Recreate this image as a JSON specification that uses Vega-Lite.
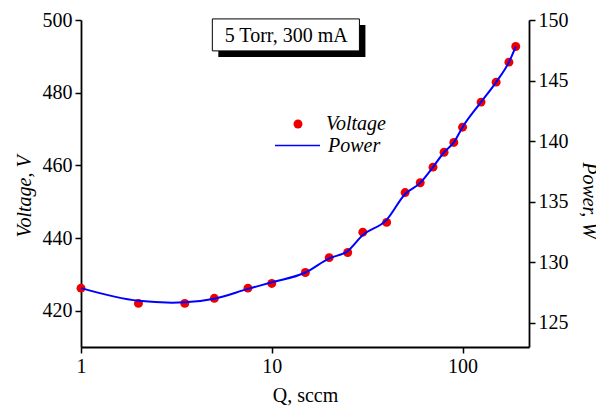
{
  "$schema": "https://vega.github.io/schema/vega-lite/v6.json",
  "width": 448,
  "height": 327,
  "autosize": "none",
  "padding": {"left": 81, "top": 20, "right": 67, "bottom": 62},
  "background": "white",
  "config": {
    "view": {"stroke": null},
    "axis": {
      "grid": false,
      "labelFont": "Liberation Serif",
      "labelFontSize": 20,
      "labelColor": "black",
      "labelFlush": false,
      "titleFont": "serif",
      "titleFontSize": 20,
      "titleFontWeight": "normal",
      "titleColor": "black",
      "domainColor": "black",
      "domainWidth": 1.8,
      "tickColor": "black",
      "tickWidth": 1.5,
      "tickSize": 6,
      "labelOverlap": false
    },
    "legend": {
      "labelFont": "Times New Roman",
      "labelFontSize": 20,
      "labelFontStyle": "italic",
      "labelColor": "black",
      "padding": 0
    }
  },
  "datasets": {
    "voltage": [
      {"Q": 1, "V": 426.2, "series": "Voltage"},
      {"Q": 2, "V": 422.0, "series": "Voltage"},
      {"Q": 3.5, "V": 422.0, "series": "Voltage"},
      {"Q": 5, "V": 423.4, "series": "Voltage"},
      {"Q": 7.5, "V": 426.2, "series": "Voltage"},
      {"Q": 10, "V": 427.5, "series": "Voltage"},
      {"Q": 15, "V": 430.5, "series": "Voltage"},
      {"Q": 20, "V": 434.6, "series": "Voltage"},
      {"Q": 25, "V": 436.0, "series": "Voltage"},
      {"Q": 30, "V": 441.6, "series": "Voltage"},
      {"Q": 40, "V": 444.3, "series": "Voltage"},
      {"Q": 50, "V": 452.5, "series": "Voltage"},
      {"Q": 60, "V": 455.2, "series": "Voltage"},
      {"Q": 70, "V": 459.5, "series": "Voltage"},
      {"Q": 80, "V": 463.6, "series": "Voltage"},
      {"Q": 90, "V": 466.3, "series": "Voltage"},
      {"Q": 100, "V": 470.5, "series": "Voltage"},
      {"Q": 125, "V": 477.4, "series": "Voltage"},
      {"Q": 150, "V": 482.9, "series": "Voltage"},
      {"Q": 175, "V": 488.4, "series": "Voltage"},
      {"Q": 190, "V": 492.7, "series": "Voltage"}
    ],
    "power": [
      {"Q": 1, "P": 127.86, "series": "Power"},
      {"Q": 2, "P": 126.81, "series": "Power"},
      {"Q": 3, "P": 126.66, "series": "Power"},
      {"Q": 3.5, "P": 126.69, "series": "Power"},
      {"Q": 5, "P": 126.99, "series": "Power"},
      {"Q": 7.5, "P": 127.8, "series": "Power"},
      {"Q": 10, "P": 128.34, "series": "Power"},
      {"Q": 15, "P": 129.15, "series": "Power"},
      {"Q": 20, "P": 130.32, "series": "Power"},
      {"Q": 25, "P": 130.92, "series": "Power"},
      {"Q": 30, "P": 132.24, "series": "Power"},
      {"Q": 40, "P": 133.5, "series": "Power"},
      {"Q": 50, "P": 135.63, "series": "Power"},
      {"Q": 60, "P": 136.55, "series": "Power"},
      {"Q": 70, "P": 137.85, "series": "Power"},
      {"Q": 80, "P": 139.08, "series": "Power"},
      {"Q": 90, "P": 139.89, "series": "Power"},
      {"Q": 100, "P": 141.15, "series": "Power"},
      {"Q": 125, "P": 143.22, "series": "Power"},
      {"Q": 150, "P": 144.87, "series": "Power"},
      {"Q": 175, "P": 146.52, "series": "Power"},
      {"Q": 190, "P": 147.81, "series": "Power"}
    ],
    "box": [{"Q": 4.88, "Q2": 28.8, "V": 500.3, "V2": 491.5}],
    "label": [{"Q": 11.9, "V": 495.7, "t": "5 Torr, 300 mA"}]
  },
  "encoding": {
    "x": {
      "field": "Q",
      "type": "quantitative",
      "scale": {"type": "log", "domain": [1, 223], "nice": false},
      "axis": {
        "title": "Q, sccm",
        "values": [1, 10, 100],
        "labelPadding": 3,
        "titlePadding": 9
      }
    }
  },
  "layer": [
    {
      "encoding": {
        "y": {
          "field": "V",
          "type": "quantitative",
          "scale": {"domain": [410, 500], "nice": false, "zero": false},
          "axis": {
            "title": "Voltage, V",
            "titleFontStyle": "italic",
            "values": [420, 440, 460, 480, 500],
            "labelPadding": 3,
            "titlePadding": 8,
            "titleY": 176
          }
        }
      },
      "layer": [
        {
          "data": {"name": "box"},
          "mark": {"type": "rect", "fill": "black", "xOffset": 6, "x2Offset": 6, "yOffset": 6, "y2Offset": 6},
          "encoding": {"x2": {"field": "Q2"}, "y2": {"field": "V2"}}
        },
        {
          "data": {"name": "box"},
          "mark": {"type": "rect", "fill": "white", "stroke": "black", "strokeWidth": 1},
          "encoding": {"x2": {"field": "Q2"}, "y2": {"field": "V2"}}
        },
        {
          "data": {"name": "label"},
          "mark": {"type": "text", "font": "Liberation Serif", "fontSize": 20, "color": "black", "align": "center", "baseline": "middle"},
          "encoding": {"text": {"field": "t"}}
        },
        {
          "data": {"name": "voltage"},
          "mark": {"type": "point", "filled": true, "size": 80, "opacity": 1},
          "encoding": {
            "fill": {
              "field": "series",
              "type": "nominal",
              "scale": {"domain": ["Voltage"], "range": ["#ee0000"]},
              "legend": {
                "title": null,
                "orient": "none",
                "legendX": 207,
                "legendY": 94,
                "symbolType": "circle",
                "symbolSize": 80,
                "symbolStrokeWidth": 0,
                "labelOffset": 18
              }
            }
          }
        }
      ]
    },
    {
      "data": {"name": "power"},
      "mark": {"type": "line", "interpolate": "monotone", "strokeWidth": 2},
      "encoding": {
        "y": {
          "field": "P",
          "type": "quantitative",
          "scale": {"domain": [123, 150], "nice": false, "zero": false},
          "axis": {
            "orient": "right",
            "title": "Power, W",
            "titleFontStyle": "italic",
            "values": [125, 130, 135, 140, 145, 150],
            "labelPadding": 3,
            "titlePadding": 10,
            "titleY": 180
          }
        },
        "stroke": {
          "field": "series",
          "type": "nominal",
          "scale": {"domain": ["Power"], "range": ["#0000ff"]},
          "legend": {
            "title": null,
            "orient": "none",
            "legendX": 193,
            "legendY": 102,
            "symbolType": "stroke",
            "symbolSize": 2025,
            "symbolStrokeWidth": 1.5,
            "labelOffset": 7
          }
        }
      }
    }
  ],
  "resolve": {"scale": {"y": "independent"}}
}
